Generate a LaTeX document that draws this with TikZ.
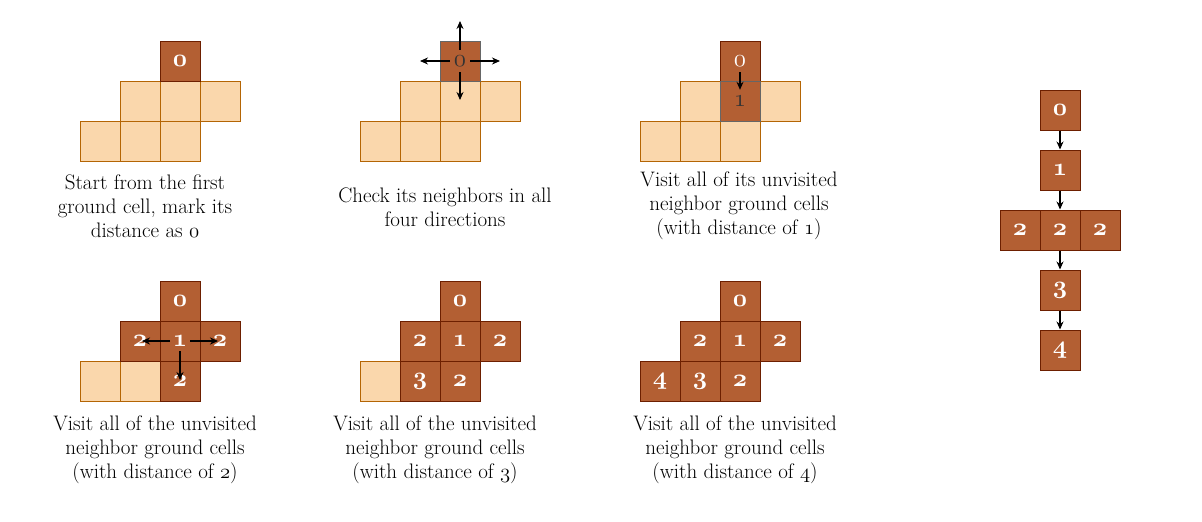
\documentclass[tikz,border=0pt]{standalone}
\usepackage{tikz}
\usetikzlibrary{arrows.meta}

\definecolor{groundfill}{HTML}{FAD7AC}
\definecolor{groundline}{HTML}{B46504}
\definecolor{seenfill}{HTML}{B35F33}
\definecolor{seenline}{HTML}{6D1F00}

\tikzset{
  ground/.style={draw=groundline, fill=groundfill, line width=1pt, minimum size=40pt, inner sep=0pt},
  seen/.style={draw=seenline, fill=seenfill, line width=1pt, minimum size=40pt, inner sep=0pt,
    text=white, font=\fontsize{23}{23}\selectfont},
  checked/.style={seen, draw=black!60, text=black!80},
  caption/.style={align=center, font=\fontsize{21}{24}\selectfont, text=black},
  tag/.style={inner sep=0pt, minimum width=20pt, minimum height=22pt, font=\fontsize{23}{23}\selectfont},
  go/.style={line width=1.1pt, -{Stealth[length=8pt,width=7pt]}}
}
% bold and plain old style digits
\newcommand{\dist}[1]{{\usefont{OML}{cmm}{b}{it}#1}}
\newcommand{\distm}[1]{{\usefont{OML}{cmm}{m}{it}#1}}

\begin{document}
\begin{tikzpicture}[x=1pt,y=-1pt]
  \useasboundingbox (0,0) rectangle (1202,522);
  % first ground cell
  \node[ground] (a1) at (140,101) {};
  \node[ground] (a2) at (180,101) {};
  \node[ground] (a3) at (220,101) {};
  \node[ground] (a4) at (100,141) {};
  \node[ground] (a5) at (140,141) {};
  \node[ground] (a6) at (180,141) {};
  \node[seen] (a0) at (180,61) {\dist{0}};
  \node[caption] (t1) at (145,206) {Start from the first\\ground cell, mark its\\distance as \distm{0}};

  % four directions
  \node[ground] (b1) at (420,101) {};
  \node[ground] (b2) at (460,101) {};
  \node[ground] (b3) at (500,101) {};
  \node[ground] (b4) at (380,141) {};
  \node[ground] (b5) at (420,141) {};
  \node[ground] (b6) at (460,141) {};
  \node[checked] (b0) at (460,61) {};
  \node[tag, text=black!80] (b0m) at (b0) {\distm{0}};
  \coordinate (bn) at (460,21);
  \coordinate (bw) at (420,61);
  \coordinate (be) at (500,61);
  \coordinate (bs) at (460,100);
  \draw[go] (b0m.north) -- (bn);
  \draw[go] (b0m.west) -- (bw);
  \draw[go] (b0m.east) -- (be);
  \draw[go] (b0m.south) -- (bs);
  \node[caption] (t2) at (445,207) {Check its neighbors in all\\four directions};

  % distance 1
  \node[ground] (c2) at (700,101) {};
  \node[ground] (c3) at (780,101) {};
  \node[ground] (c4) at (660,141) {};
  \node[ground] (c5) at (700,141) {};
  \node[ground] (c6) at (740,141) {};
  \node[seen] (c0) at (740,61) {};
  \node[checked] (c1) at (740,101) {};
  \node[tag, text=white] (c0m) at (c0) {\distm{0}};
  \node[tag, text=black!80] (c1m) at (c1) {\distm{1}};
  \draw[go] (c0m.south) -- (c1m.north);
  \node[caption] (t3) at (739,206) {Visit all of its unvisited\\neighbor ground cells\\(with distance of \distm{1})};

  % distance 2
  \node[ground] (d4) at (100,381) {};
  \node[ground] (d5) at (140,381) {};
  \node[seen] (d0) at (180,301) {\dist{0}};
  \node[seen] (dw) at (140,341) {\dist{2}};
  \node[seen] (d1) at (180,341) {\dist{1}};
  \node[seen] (de) at (220,341) {\dist{2}};
  \node[seen] (ds) at (180,381) {\dist{2}};
  \draw[go] ([xshift=-10pt]d1.center) -- ([xshift=2pt]dw.center);
  \draw[go] ([xshift=10pt]d1.center) -- ([xshift=-2pt]de.center);
  \draw[go] ([yshift=-10pt]d1.center) -- ([yshift=1pt]ds.center);
  \node[caption] (t4) at (155,450) {Visit all of the unvisited\\neighbor ground cells\\(with distance of \distm{2})};

  % distance 3
  \node[ground] (e4) at (380,381) {};
  \node[seen] (e0) at (460,301) {\dist{0}};
  \node[seen] (ew) at (420,341) {\dist{2}};
  \node[seen] (e1) at (460,341) {\dist{1}};
  \node[seen] (ee) at (500,341) {\dist{2}};
  \node[seen] (e3) at (420,381) {\dist{3}};
  \node[seen] (es) at (460,381) {\dist{2}};
  \node[caption] (t5) at (435,450) {Visit all of the unvisited\\neighbor ground cells\\(with distance of \distm{3})};

  % distance 4
  \node[seen] (f0) at (740,301) {\dist{0}};
  \node[seen] (fw) at (700,341) {\dist{2}};
  \node[seen] (f1) at (740,341) {\dist{1}};
  \node[seen] (fe) at (780,341) {\dist{2}};
  \node[seen] (f4) at (660,381) {\dist{4}};
  \node[seen] (f3) at (700,381) {\dist{3}};
  \node[seen] (fs) at (740,381) {\dist{2}};
  \node[caption] (t6) at (735,450) {Visit all of the unvisited\\neighbor ground cells\\(with distance of \distm{4})};

  % levels
  \node[seen] (r0) at (1060,110) {\dist{0}};
  \node[seen] (r1) at (1060,170) {\dist{1}};
  \node[seen] (r2w) at (1020,230) {\dist{2}};
  \node[seen] (r2) at (1060,230) {\dist{2}};
  \node[seen] (r2e) at (1100,230) {\dist{2}};
  \node[seen] (r3) at (1060,290) {\dist{3}};
  \node[seen] (r4) at (1060,350) {\dist{4}};
  \draw[go] (r0) -- (r1);
  \draw[go] (r1) -- (r2);
  \draw[go] (r2) -- (r3);
  \draw[go] (r3) -- (r4);
\end{tikzpicture}
\end{document}
